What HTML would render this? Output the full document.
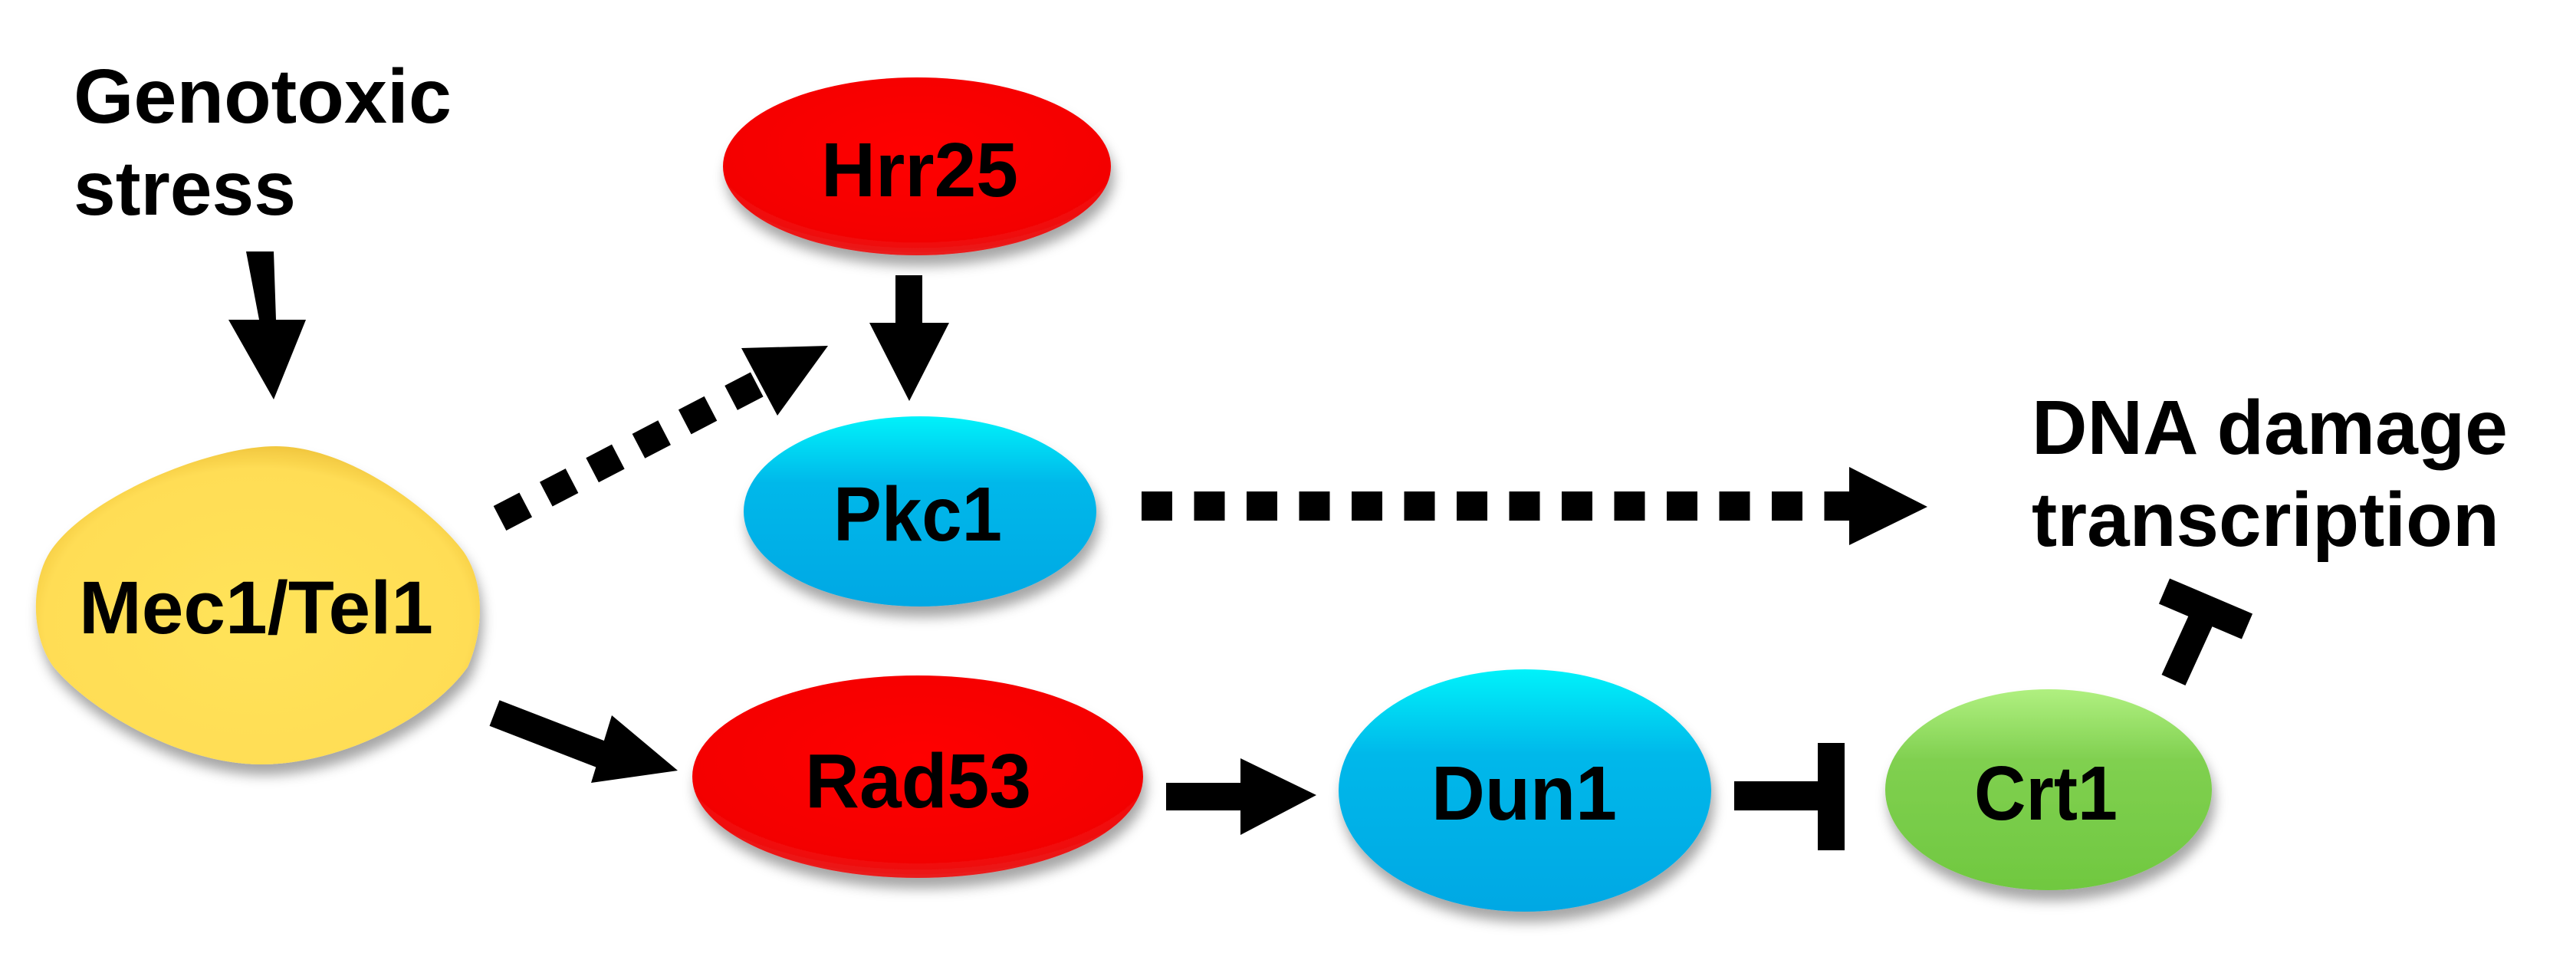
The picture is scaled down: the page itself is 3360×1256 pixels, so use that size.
<!DOCTYPE html>
<html><head><meta charset="utf-8"><style>
html,body{margin:0;padding:0;background:#fff;}
svg{display:block;}
text{font-family:"Liberation Sans",Arial,sans-serif;font-weight:bold;fill:#000;}
</style></head><body>
<svg width="3360" height="1256" viewBox="0 0 3360 1256" xmlns="http://www.w3.org/2000/svg">
<defs>
<radialGradient id="gr" cx="50%" cy="40%" r="60%"><stop offset="0" stop-color="#ff0000"/><stop offset="0.85" stop-color="#f40000"/><stop offset="1" stop-color="#e82020"/></radialGradient>
<linearGradient id="gb" x1="0" y1="0" x2="0" y2="1"><stop offset="0" stop-color="#00f2fa"/><stop offset="0.35" stop-color="#00b8ea"/><stop offset="1" stop-color="#00a8e4"/></linearGradient>
<linearGradient id="gg" x1="0" y1="0" x2="0" y2="1"><stop offset="0" stop-color="#b0f080"/><stop offset="0.35" stop-color="#80d050"/><stop offset="1" stop-color="#70c840"/></linearGradient>
<radialGradient id="gy" cx="50%" cy="55%" r="60%"><stop offset="0" stop-color="#ffe35a"/><stop offset="0.8" stop-color="#ffdd55"/><stop offset="1" stop-color="#e8b830"/></radialGradient>
<filter id="sh" x="-20%" y="-20%" width="140%" height="150%"><feDropShadow dx="4" dy="14" stdDeviation="8" flood-color="#000" flood-opacity="0.35"/></filter>
</defs>

<!-- Genotoxic stress -->
<text x="96" y="160" font-size="100" textLength="493" lengthAdjust="spacingAndGlyphs">Genotoxic</text>
<text x="96" y="280" font-size="100" textLength="290" lengthAdjust="spacingAndGlyphs">stress</text>
<polygon points="321,328 357,328 360,417 399,417 357,521 298,417 338,417" fill="#000"/>

<!-- Hrr25 -->
<ellipse cx="1196" cy="217" rx="253" ry="116" fill="url(#gr)" filter="url(#sh)"/>
<text x="1071" y="256" font-size="100" textLength="257" lengthAdjust="spacingAndGlyphs">Hrr25</text>
<polygon points="1168,359 1203,359 1203,421 1238,421 1186,523 1134,421 1168,421" fill="#000"/>

<!-- Pkc1 -->
<ellipse cx="1200" cy="667" rx="230" ry="124" fill="url(#gb)" filter="url(#sh)"/>
<text x="1087" y="705" font-size="100" textLength="220" lengthAdjust="spacingAndGlyphs">Pkc1</text>

<!-- Mec1/Tel1 -->
<path d="M 360,582 C 450,582 560,660 605,720 C 632,760 632,820 610,870 C 560,940 440,997 340,997 C 240,997 120,930 70,870 C 40,830 40,760 65,720 C 110,650 270,582 360,582 Z" fill="url(#gy)" filter="url(#sh)"/>
<text x="103" y="826" font-size="97" textLength="462" lengthAdjust="spacingAndGlyphs">Mec1/Tel1</text>

<!-- dotted Mec1 -> Pkc1 -->
<line x1="652" y1="676" x2="990" y2="500" stroke="#000" stroke-width="36" stroke-dasharray="38,30"/>
<polygon points="967,454 1080,451 1014,542" fill="#000"/>

<!-- Mec1 -> Rad53 -->
<line x1="645" y1="930" x2="800" y2="990" stroke="#000" stroke-width="36"/>
<polygon points="798,933 884,1005 771,1021" fill="#000"/>

<!-- Rad53 -->
<ellipse cx="1197" cy="1013" rx="294" ry="132" fill="url(#gr)" filter="url(#sh)"/>
<text x="1050" y="1053" font-size="100" textLength="295" lengthAdjust="spacingAndGlyphs">Rad53</text>

<!-- Rad53 -> Dun1 -->
<rect x="1521" y="1021" width="100" height="36" fill="#000"/>
<polygon points="1618,989 1717,1037 1618,1089" fill="#000"/>

<!-- Dun1 -->
<ellipse cx="1989" cy="1031" rx="243" ry="158" fill="url(#gb)" filter="url(#sh)"/>
<text x="1867" y="1069" font-size="100" textLength="242" lengthAdjust="spacingAndGlyphs">Dun1</text>

<!-- Dun1 -| Crt1 -->
<rect x="2262" y="1019" width="125" height="38" fill="#000"/>
<rect x="2371" y="969" width="35" height="140" fill="#000"/>

<!-- Crt1 -->
<ellipse cx="2672" cy="1030" rx="213" ry="131" fill="url(#gg)" filter="url(#sh)"/>
<text x="2575" y="1069" font-size="100" textLength="187" lengthAdjust="spacingAndGlyphs">Crt1</text>

<!-- Crt1 -| DNA -->
<line x1="2835" y1="887" x2="2877" y2="795" stroke="#000" stroke-width="34"/>
<line x1="2823" y1="771" x2="2931" y2="817" stroke="#000" stroke-width="36"/>

<!-- Pkc1 dotted -> DNA -->
<line x1="1489" y1="660" x2="2412" y2="660" stroke="#000" stroke-width="38" stroke-dasharray="40,28.5"/>
<polygon points="2412,609 2514,661 2412,711" fill="#000"/>

<!-- DNA damage transcription -->
<text x="2650" y="592" font-size="100" textLength="621" lengthAdjust="spacingAndGlyphs">DNA damage</text>
<text x="2650" y="712" font-size="100" textLength="610" lengthAdjust="spacingAndGlyphs">transcription</text>
</svg>
</body></html>
